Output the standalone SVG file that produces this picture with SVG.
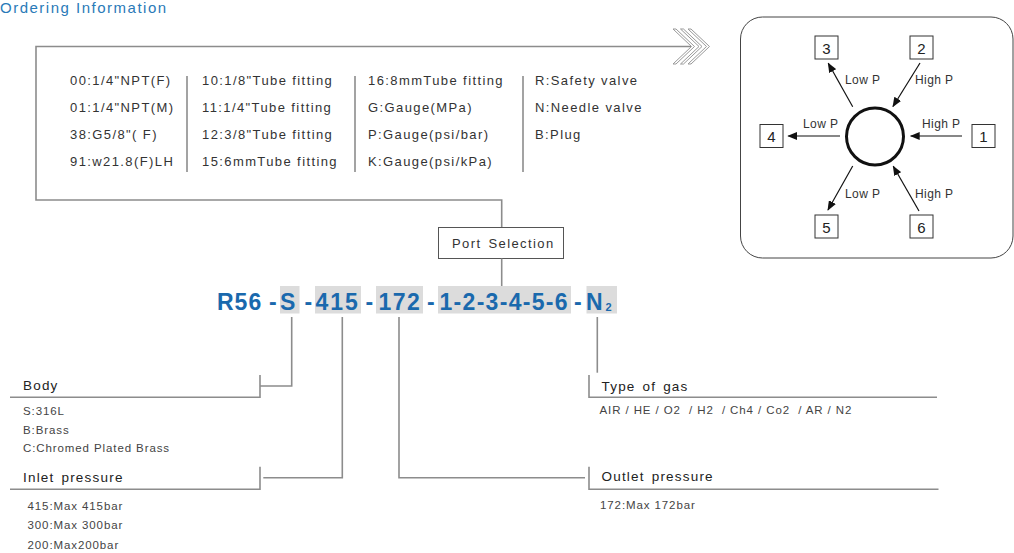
<svg xmlns="http://www.w3.org/2000/svg" width="1014" height="553" viewBox="0 0 1014 553">
<style>
text{font-family:"Liberation Sans",Arial,sans-serif;}
.title{font-size:15px;fill:#2a7ab8;letter-spacing:1.5px;}
.list{font-size:13px;fill:#333;letter-spacing:1.4px;}
.sep{stroke:#666;stroke-width:1.2;}
.lead{stroke:#8c8c8c;stroke-width:1.6;fill:none;}
.code{font-size:23px;font-weight:bold;fill:#1a69ad;}
.hl{fill:#dcdcdc;}
.head{font-size:13.5px;fill:#222;letter-spacing:1.2px;word-spacing:2px;}
.small{font-size:11.5px;fill:#444;letter-spacing:0.9px;white-space:pre;}
.box{fill:#fff;stroke:#333;stroke-width:1;}
.num{font-size:15px;fill:#222;text-anchor:middle;}
.pl{font-size:12px;fill:#333;letter-spacing:0.4px;}
.arr{stroke:#111;stroke-width:1.2;fill:none;marker-end:url(#ah);}
.chev{fill:none;stroke:#999;stroke-width:1;}
</style>
<defs>
<marker id="ah" markerWidth="10" markerHeight="8" refX="9" refY="4" orient="auto" markerUnits="userSpaceOnUse">
<path d="M0,0 L10,4 L0,8 Z" fill="#111"/>
</marker>
</defs>

<text class="title" x="0" y="13">Ordering Information</text>

<g id="frame">
<polyline class="lead" points="691,46.5 36,46.5 36,200 501.7,200 501.7,227.5"/>
<polygon class="chev" points="673,29 691.5,46.5 673,64 676,64 694.5,46.5 676,29"/>
<polygon class="chev" points="680.5,29 699,46.5 680.5,64 683.5,64 702,46.5 683.5,29"/>
<polygon class="chev" points="688,29 706.5,46.5 688,64 691,64 709.5,46.5 691,29"/>
</g>

<g id="options">
<text class="list" x="70" y="85">00:1/4"NPT(F)</text>
<text class="list" x="70" y="112">01:1/4"NPT(M)</text>
<text class="list" x="70" y="139">38:G5/8"( F)</text>
<text class="list" x="70" y="166">91:w21.8(F)LH</text>
<line class="sep" x1="187" y1="76" x2="187" y2="172"/>
<text class="list" x="202" y="85">10:1/8"Tube fitting</text>
<text class="list" x="202" y="112">11:1/4"Tube fitting</text>
<text class="list" x="202" y="139">12:3/8"Tube fitting</text>
<text class="list" x="202" y="166">15:6mmTube fitting</text>
<line class="sep" x1="355" y1="76" x2="355" y2="172"/>
<text class="list" x="368" y="85">16:8mmTube fitting</text>
<text class="list" x="368" y="112">G:Gauge(MPa)</text>
<text class="list" x="368" y="139">P:Gauge(psi/bar)</text>
<text class="list" x="368" y="166">K:Gauge(psi/kPa)</text>
<line class="sep" x1="523" y1="76" x2="523" y2="172"/>
<text class="list" x="535" y="85">R:Safety valve</text>
<text class="list" x="535" y="112">N:Needle valve</text>
<text class="list" x="535" y="139">B:Plug</text>
</g>

<g id="port-diagram">
<rect x="740.5" y="17" width="272.5" height="241" rx="22" fill="#fff" stroke="#444" stroke-width="1"/>
<circle cx="875" cy="136.5" r="28.5" fill="none" stroke="#111" stroke-width="3"/>
<g id="port1"><rect class="box" x="972" y="124.5" width="23" height="23"/><text class="num" x="983.5" y="142">1</text></g>
<g id="port2"><rect class="box" x="910" y="36" width="23" height="23"/><text class="num" x="921.5" y="53.5">2</text></g>
<g id="port3"><rect class="box" x="815" y="36" width="23" height="23"/><text class="num" x="826.5" y="53.5">3</text></g>
<g id="port4"><rect class="box" x="760" y="124.5" width="23" height="23"/><text class="num" x="771.5" y="142">4</text></g>
<g id="port5"><rect class="box" x="815" y="215" width="23" height="23"/><text class="num" x="826.5" y="232.5">5</text></g>
<g id="port6"><rect class="box" x="910" y="215" width="23" height="23"/><text class="num" x="921.5" y="232.5">6</text></g>
<g id="port-arrows">
<line class="arr" x1="852.7" y1="106.7" x2="828.3" y2="63.3"/>
<line class="arr" x1="920" y1="63" x2="893" y2="106.5"/>
<line class="arr" x1="840" y1="136" x2="788.3" y2="136"/>
<line class="arr" x1="962" y1="136" x2="910.7" y2="136"/>
<line class="arr" x1="852.7" y1="166" x2="828" y2="210"/>
<line class="arr" x1="919" y1="211" x2="893.3" y2="166.3"/>
</g>
<text class="pl" x="845" y="84">Low P</text>
<text class="pl" x="915" y="84">High P</text>
<text class="pl" x="803" y="127.5">Low P</text>
<text class="pl" x="922" y="127.5">High P</text>
<text class="pl" x="845" y="197.5">Low P</text>
<text class="pl" x="915" y="197.5">High P</text>
</g>

<g id="port-selection">
<rect x="438.5" y="227.5" width="125" height="31" fill="#fff" stroke="#555" stroke-width="1"/>
<text class="list" x="452" y="248" style="word-spacing:2px">Port Selection</text>
</g>

<g id="code">
<rect class="hl" x="280" y="286" width="19.5" height="27.5"/>
<rect class="hl" x="315" y="286" width="46" height="27.5"/>
<rect class="hl" x="376" y="286" width="47" height="27.5"/>
<rect class="hl" x="438" y="286" width="133" height="27.5"/>
<rect class="hl" x="586.5" y="286" width="30.5" height="27.5"/>
<text class="code" x="217" y="309.5" style="letter-spacing:1px">R56</text>
<text class="code" x="269" y="309.5">-</text>
<text class="code" x="280" y="309.5">S</text>
<text class="code" x="304.5" y="309.5">-</text>
<text class="code" x="315.5" y="309.5" style="letter-spacing:2px">415</text>
<text class="code" x="365.5" y="309.5">-</text>
<text class="code" x="378.5" y="309.5" style="letter-spacing:1.5px">172</text>
<text class="code" x="427" y="309.5">-</text>
<text class="code" x="439.5" y="309.5" style="letter-spacing:1.3px">1-2-3-4-5-6</text>
<text class="code" x="574" y="309.5">-</text>
<text class="code" x="586" y="309.5">N</text>
<text class="code" x="605.5" y="311" style="font-size:11px">2</text>
</g>

<g id="connectors">
<line class="lead" x1="501.7" y1="258.5" x2="501.7" y2="286"/>
<polyline class="lead" points="291.7,317 291.7,386 260,386"/>
<polyline class="lead" points="342.3,317 342.3,477.7 263.3,477.7"/>
<polyline class="lead" points="399,317 399,477.7 585,477.7"/>
<line class="lead" x1="597.3" y1="317" x2="597.3" y2="372.7"/>
</g>

<g id="body">
<polyline class="lead" points="260,375 260,397.3 10,397.3"/>
<text class="head" x="23" y="389.5">Body</text>
<text class="small" x="23" y="415">S:316L</text>
<text class="small" x="23" y="433.5">B:Brass</text>
<text class="small" x="23" y="451.5">C:Chromed Plated Brass</text>
</g>

<g id="inlet">
<polyline class="lead" points="260,466.7 260,489.3 10,489.3"/>
<text class="head" x="23" y="482">Inlet pressure</text>
<text class="small" x="27.5" y="509.5">415:Max 415bar</text>
<text class="small" x="27.5" y="528.5">300:Max 300bar</text>
<text class="small" x="27.5" y="548.5">200:Max200bar</text>
</g>

<g id="gas">
<polyline class="lead" points="589,375 589,397.3 937,397.3"/>
<text class="head" x="601.5" y="391">Type of gas</text>
<text class="small" x="599.5" y="413.5">AIR / HE / O2  / H2  / Ch4 / Co2  / AR / N2</text>
</g>

<g id="outlet">
<polyline class="lead" points="589,466.7 589,489.3 938.5,489.3"/>
<text class="head" x="601.5" y="481">Outlet pressure</text>
<text class="small" x="600" y="508.5">172:Max 172bar</text>
</g>
</svg>
